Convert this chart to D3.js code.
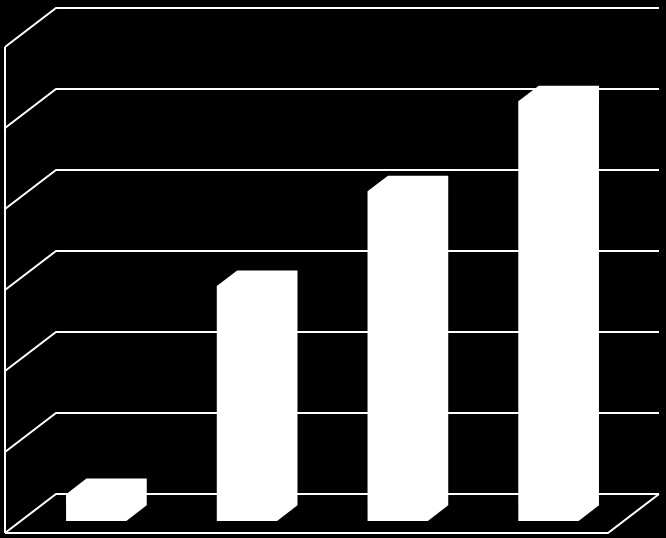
<!DOCTYPE html>
<html>
<head>
<meta charset="utf-8">
<script src="https://cdn.jsdelivr.net/npm/d3@7"></script>
<style>
  html, body { margin: 0; padding: 0; background: #000; }
  svg { display: block; }
</style>
</head>
<body>
<script>
// ---- data ----
const categories = ["1", "2", "3", "4"];
const values = [3.3, 29.0, 40.7, 51.8];
const tickValues = [0, 10, 20, 30, 40, 50, 60];

// ---- layout ----
const W = 666, H = 538;
const frontX = 5, frontY = 533;      // front-left floor corner
const plotW = 603;                    // width of front plane
const DX = 51, DY = 39;               // full depth offset
const plotH = 486;                    // value height
const barZ0 = 0.31, barZ1 = 0.71;     // bar depth range (0 front, 1 back)

const svg = d3.select("body").append("svg").attr("width", W).attr("height", H);
svg.append("rect").attr("width", W).attr("height", H).attr("fill", "#000");

const x = d3.scaleBand().domain(categories).range([0, plotW]).paddingInner(0.6).paddingOuter(0.3);
const y = d3.scaleLinear().domain([0, 60]).range([0, plotH]);

// projection: world (xw, v, z) -> screen
const px = (xw, z) => frontX + xw + z * DX;
const py = (v, z) => frontY - y(v) - z * DY;

const line = d3.line();
const stroke = { stroke: "#fff", "stroke-width": 2, fill: "none" };
function path(points) {
  const p = svg.append("path").attr("d", line(points));
  Object.entries(stroke).forEach(([k, v]) => p.attr(k, v));
  return p;
}

// gridlines: back wall + left wall
tickValues.forEach(t => {
  path([[px(0, 0), py(t, 0)], [px(0, 1), py(t, 1)], [px(plotW, 1), py(t, 1)]]);
});
// left wall front edge
path([[px(0, 0), py(0, 0)], [px(0, 0), py(60, 0)]]);
// floor front and right edges
path([[px(0, 0), py(0, 0)], [px(plotW, 0), py(0, 0)], [px(plotW, 1), py(0, 1)]]);

// bars
const bw = x.bandwidth();
svg.append("g").selectAll("path").data(values).join("path")
  .attr("d", (v, i) => {
    const x0 = x(categories[i]), x1 = x0 + bw;
    return line([
      [px(x0, barZ0), py(0, barZ0)],
      [px(x0, barZ0), py(v, barZ0)],
      [px(x0, barZ1), py(v, barZ1)],
      [px(x1, barZ1), py(v, barZ1)],
      [px(x1, barZ1), py(0, barZ1)],
      [px(x1, barZ0), py(0, barZ0)]
    ]) + "Z";
  })
  .attr("fill", "#fff")
  .attr("stroke", "none");
</script>
</body>
</html>
